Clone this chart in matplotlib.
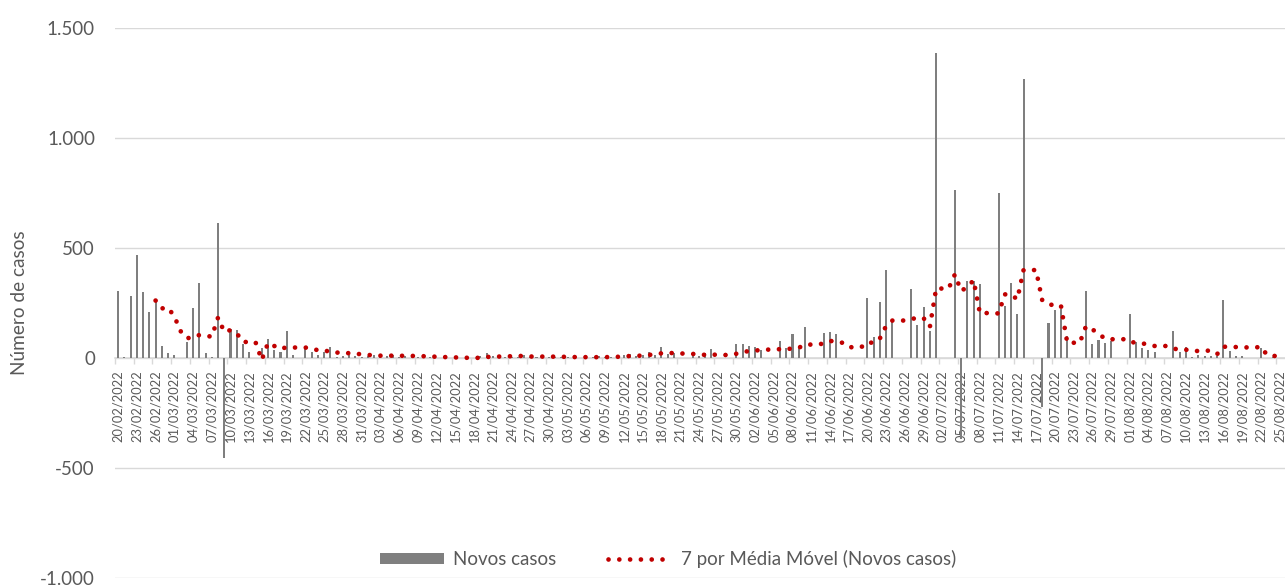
import matplotlib
matplotlib.use("Agg")
import matplotlib.pyplot as plt
from matplotlib.patches import Patch
from matplotlib.lines import Line2D
import numpy as np
import pandas as pd

# ---------------- data ----------------
start_date = "2022-02-20"
n_days = 187
novos_casos = [
    305, 3, 282, 470, 298, 210, 260, 55, 21, 12,          # 0-9
    0, 73, 229, 341, 23, 5, 615, -455, 130, 127,          # 10-19
    64, 26, 0, 44, 86, 36, 29, 124, 14, 0,                # 20-29
    45, 29, 14, 29, 48, 6, 10, 14, 10, 6,                 # 30-39
    10, 14, 10, 10, 14, 5, 8, 7, 6, 6,                    # 40-49
    6, 0, 0, 0, 0, 0, 0, 0, 8, 25,                        # 50-59
    8, 5, 5, 6, 4, 14, 5, 6, 5, 4,                        # 60-69
    5, 3, 4, 3, 2, 3, 5, 8, 3, 6,                         # 70-79
    10, 12, 20, 10, 15, 27, 15, 50, 20, 21,               # 80-89
    0, 0, 25, 10, 21, 40, 0, 0, 0, 64,                    # 90-99
    62, 55, 48, 38, 0, 0, 79, 44, 109, 55,                # 100-109
    140, 0, 0, 115, 120, 108, 0, 0, 0, 0,                 # 110-119
    274, 97, 255, 400, 166, 0, 0, 314, 152, 234,          # 120-129
    125, 1385, 0, 0, 763, -370, 351, 348, 338, 0,         # 130-139
    0, 750, 238, 342, 201, 1267, 0, 0, -221, 161,         # 140-149
    220, 225, 100, 0, 0, 306, 62, 83, 70, 76,             # 150-159
    0, 0, 202, 71, 45, 38, 26, 0, 0, 124,                 # 160-169
    26, 50, 6, 15, 8, 8, 10, 265, 34, 9,                  # 170-179
    9, 0, 0, 44, 0, 5, 0,                                 # 180-186
]
ma_window = 7
y_ticks = [-1000, -500, 0, 500, 1000, 1500]
y_tick_labels = ["-1.000", "-500", "0", "500", "1.000", "1.500"]
series_bar_label = "Novos casos"
series_ma_label = "7 por Média Móvel (Novos casos)"
y_title = "Número de casos"

dates = pd.date_range(start_date, periods=n_days, freq="D")
date_labels = [d.strftime("%d/%m/%Y") for d in dates]

# ---------------- styling ----------------
FONT = ["Lato", "DejaVu Sans"]
plt.rcParams["font.family"] = FONT
TXT = "#595959"
GRID = "#d9d9d9"
BAR = "#7f7f7f"
RED = "#c00000"

W, H, DPI = 1285, 588, 100
fig = plt.figure(figsize=(W / DPI, H / DPI), dpi=DPI)
renderer = fig.canvas.get_renderer()


def fit(text, target_px):
    t = fig.text(0, 0, text, fontsize=20)
    w = t.get_window_extent(renderer).width
    t.remove()
    return 20 * target_px / w


tick_fs = fit("1.500", 48)
date_fs = fit("20/02/2022", 71)
leg_fs = fit(series_bar_label, 103)
ylab_fs = fit(y_title, 145)

px = 72.0 / DPI  # points per pixel

# axes geometry (pixels): left 115, top 28 (1500), bottom 578 (-1000), extends past right edge
cat_w = 6.245
x_left_px = 115
ax = fig.add_axes([x_left_px / W, (H - 578) / H, (W - x_left_px) / W, 550 / H])

days = np.arange(n_days)
vals = np.array(novos_casos, dtype=float)
ma = pd.Series(vals).rolling(ma_window).mean()

ax.bar(days, vals, width=0.33, color=BAR, zorder=3, linewidth=0)

lw_pt = 4.7 * px
period_px = 10.8
ma_style = dict(color=RED, linewidth=lw_pt,
                linestyle=(0, (0.01, period_px / 4.7 - 0.01)),
                dash_capstyle="round", solid_capstyle="round")
ax.plot(days, ma, zorder=4, **ma_style)

x0 = -(118 - x_left_px) / cat_w
ax.set_xlim(x0, x0 + (W - x_left_px) / cat_w)
ax.set_ylim(-1000, 1500)

# y axis
ax.set_yticks(y_ticks)
ax.set_yticklabels(y_tick_labels)
ax.tick_params(axis="y", length=0, pad=20 * px, labelsize=tick_fs, labelcolor=TXT)
ax.yaxis.grid(True, color=GRID, linewidth=1.4 * px)
ax.set_axisbelow("line")

# x axis on y=0
for s in ["top", "right", "left"]:
    ax.spines[s].set_visible(False)
ax.spines["bottom"].set_position(("data", 0))
ax.spines["bottom"].set_color(GRID)
ax.spines["bottom"].set_linewidth(1.6 * px)

label_pos = days[::3]
ax.set_xticks(label_pos)
ax.set_xticklabels([date_labels[i] for i in label_pos], rotation=90)
ax.set_xticks(label_pos - 0.5, minor=True)
ax.tick_params(axis="x", which="major", length=0, pad=12 * px,
               labelsize=date_fs, labelcolor=TXT)
ax.tick_params(axis="x", which="minor", length=6 * px, width=1.4 * px,
               color=GRID, direction="out")
for lab in ax.get_xticklabels():
    lab.set_verticalalignment("top")
    lab.set_horizontalalignment("center")

# y title
fig.text(20 / W, 1 - 303 / H, y_title, rotation=90, ha="center", va="center",
         fontsize=ylab_fs, color=TXT)

# legend
leg_px = leg_fs / px
handles = [Patch(facecolor=BAR, edgecolor="none"),
           Line2D([0], [0], **ma_style)]
fig.legend(handles, [series_bar_label, series_ma_label],
           loc="center", bbox_to_anchor=(668 / W, 1 - 559 / H),
           bbox_transform=fig.transFigure, ncol=2, frameon=False,
           fontsize=leg_fs, labelcolor=TXT,
           handlelength=64 / leg_px, handleheight=0.5,
           handletextpad=9 / leg_px, columnspacing=52 / leg_px,
           borderpad=0, borderaxespad=0)

fig.savefig("out.png", dpi=DPI, facecolor="white")
